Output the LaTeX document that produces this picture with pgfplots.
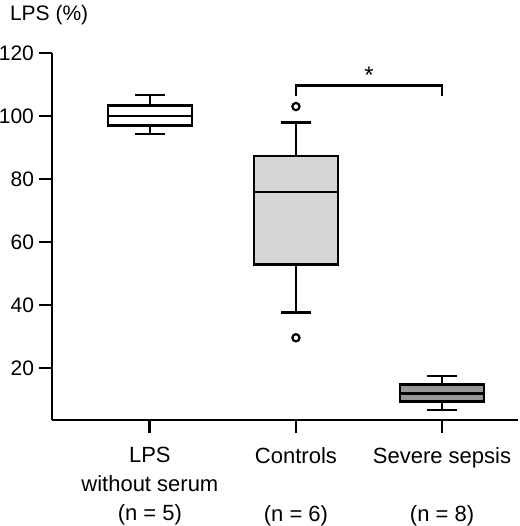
\documentclass[border=0pt]{standalone}
\usepackage{fontspec}
\setmainfont{Liberation Sans}
\usepackage{pgfplots}
\pgfplotsset{compat=1.18}
\usepgfplotslibrary{statistics}

\definecolor{lightbox}{RGB}{214,214,214}
\definecolor{darkbox}{RGB}{150,150,150}

\begin{document}
\begin{tikzpicture}
\path[use as bounding box] (-26pt,-53pt) rectangle (234pt,210pt);
\begin{axis}[
    scale only axis,
    width=233pt,
    height=183.5pt,
    xmin=0.33, xmax=3.52,
    ymin=3.5, ymax=120,
    axis lines*=left,
    axis line style={line width=1.4pt},
    tick style={line width=1.4pt, black},
    tick align=outside,
    major tick length=6.5pt,
    xtick={1,2,3},
    xticklabels={{LPS\\without serum\\(n = 5)},
                 {Controls\\\mbox{}\\(n = 6)},
                 {Severe sepsis\\\mbox{}\\(n = 8)}},
    ytick={20,40,...,120},
    xticklabel style={align=center, yshift=-3.5pt,
        font=\fontsize{11}{14.5}\selectfont},
    yticklabel style={/pgf/number format/assume math mode=true,
        font=\fontsize{10.5}{12}\selectfont, xshift=1pt},
    clip=false,
    boxplot/draw direction=y,
]
% LPS without serum
\addplot+[solid, draw=black, fill=white, line width=1.25pt, mark=none,
    boxplot prepared={draw position=1, box extend=0.575, whisker extend=0.205,
        lower whisker=94.3, lower quartile=97, median=100,
        upper quartile=103.3, upper whisker=106.7}]
    coordinates {};
% Controls
\addplot+[solid, draw=black, fill=lightbox, line width=1.25pt,
    mark=o, mark size=1.8pt,
    mark options={solid, draw=black, line width=1.1pt, fill=white},
    boxplot prepared={draw position=2, box extend=0.575, whisker extend=0.205,
        lower whisker=37.7, lower quartile=52.9, median=75.8,
        upper quartile=87.3, upper whisker=98}]
    table[row sep=\\, y index=0] {103\\ 29.6\\};
% Severe sepsis
\addplot+[solid, draw=black, fill=darkbox, line width=1.25pt, mark=none,
    boxplot prepared={draw position=3, box extend=0.575, whisker extend=0.205,
        lower whisker=6.6, lower quartile=9.4, median=11.9,
        upper quartile=14.7, upper whisker=17.5}]
    coordinates {};
% significance bracket
\addplot[black, line width=1.3pt, mark=none]
    coordinates {(2,106.3) (2,109.6) (3,109.6) (3,106.3)};
\node[anchor=base, font=\fontsize{12}{14}\selectfont, yshift=1.2pt]
    at (axis cs:2.5,109.6) {*};
\node[anchor=base west, font=\fontsize{10.5}{13}\selectfont,
    xshift=-24.5pt, yshift=16.5pt] at (rel axis cs:0,1) {LPS (\%)};
\end{axis}
\end{tikzpicture}
\end{document}
